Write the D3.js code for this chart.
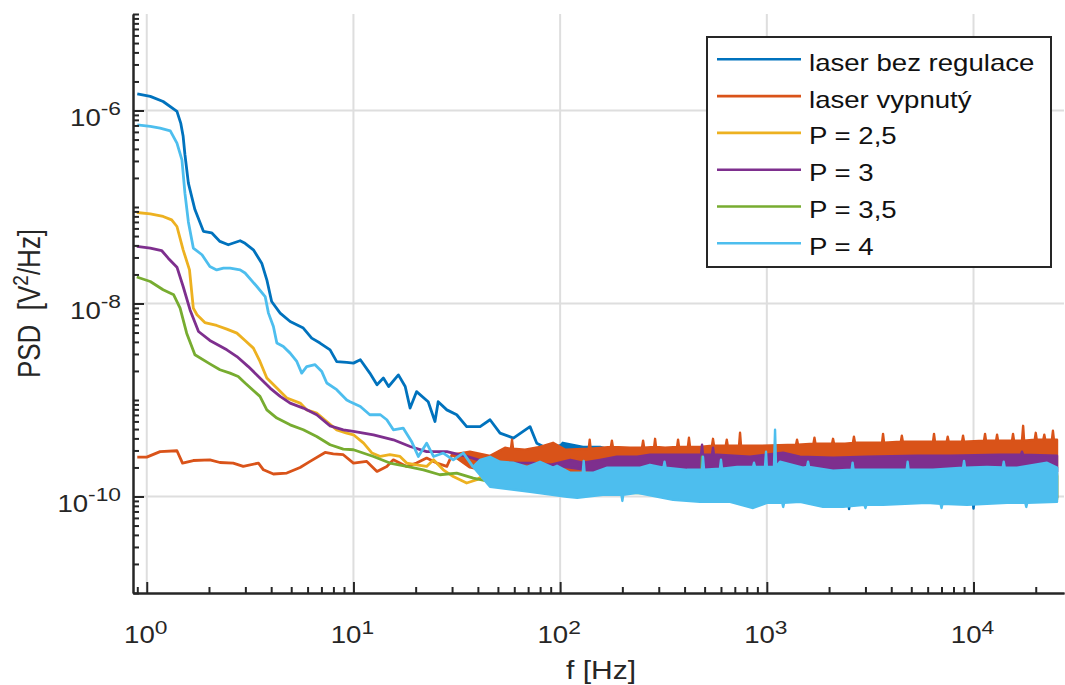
<!DOCTYPE html>
<html>
<head>
<meta charset="utf-8">
<title>PSD</title>
<script src="https://cdn.jsdelivr.net/npm/d3@7"></script>
<style>
    body { margin: 0; background: #fff; }
    svg text { font-family: "Liberation Sans", Arial, Helvetica, sans-serif; fill: #262626; }
</style>
</head>
<body>
<svg id="chart" width="1065" height="685"></svg>
<script>
// legend entries, in plotting order
var seriesNames  = ['laser bez regulace', 'laser vypnutý', 'P = 2,5', 'P = 3', 'P = 3,5', 'P = 4'];
var seriesColors = ['#0072bd', '#d95319', '#edb120', '#7e2f8e', '#77ac30', '#4dbeee'];

var xTickExps = [0, 1, 2, 3, 4];
var yTickExps = [-10, -8, -6];

// [f Hz, PSD V^2/Hz]; *Line = low frequency trace, *Top / *Bot = edges of the noise band
var noRegLine = [[0.90,1.49e-6],[1.04,1.40e-6],[1.20,1.24e-6],[1.40,9.8e-7],[1.46,7.4e-7],[1.50,5.4e-7],[1.53,3.5e-7],[1.59,1.77e-7],[1.71,9.4e-8],[1.88,5.6e-8],[2.06,5.4e-8],[2.26,4.4e-8],[2.48,4.06e-8],[2.83,4.47e-8],[2.99,4.2e-8],[3.28,3.6e-8],[3.60,2.62e-8],[3.81,1.76e-8],[4.02,1.05e-8],[4.42,7.96e-9],[4.94,6.5e-9],[5.72,5.56e-9],[6.28,4.38e-9],[6.89,3.89e-9],[7.71,3.31e-9],[8.30,2.5e-9],[9.28,2.45e-9],[10.0,2.41e-9],[10.8,2.61e-9],[12.0,1.90e-9],[13.0,1.44e-9],[13.96,1.69e-9],[14.8,1.38e-9],[16.5,1.82e-9],[17.8,1.38e-9],[18.8,8.24e-10],[20.2,1.22e-9],[23.0,9.6e-10],[24.8,5.99e-10],[25.7,9.6e-10],[28.3,7.9e-10],[31.6,7.03e-10],[35.3,5.3e-10],[41.0,5.3e-10],[45.8,6.24e-10],[51.2,4.54e-10],[59.4,4.03e-10],[71.5,5.3e-10],[77.1,3.57e-10],[86.1,3.17e-10],[100,3.36e-10]];
var noRegTop  = [[100,3.36e-10],[103,3.60e-10],[129,3.27e-10],[156,3.27e-10],[174,3.05e-10],[188,2.71e-10],[218,2.40e-10],[475,1.99e-10],[25350,1.99e-10]];
var noRegBot  = [[100,3.36e-10],[124,1.89e-10],[272,1.12e-10],[475,9.6e-11],[2472,9.3e-11],[2500,7.4e-11],[2528,9.3e-11],[9890,9.3e-11],[10000,7.5e-11],[10110,9.3e-11],[25350,9.6e-11]];

var offLine = [[0.90,2.56e-10],[1.0,2.56e-10],[1.16,2.92e-10],[1.40,2.98e-10],[1.49,2.22e-10],[1.68,2.36e-10],[2.02,2.40e-10],[2.26,2.25e-10],[2.62,2.22e-10],[2.93,2.05e-10],[3.47,2.22e-10],[3.67,1.89e-10],[4.10,1.71e-10],[4.76,1.75e-10],[5.52,2.0e-10],[6.17,2.31e-10],[7.29,2.86e-10],[7.99,2.77e-10],[8.93,2.71e-10],[10.0,2.22e-10],[11.6,2.31e-10],[13.0,1.82e-10],[14.5,2.05e-10],[15.6,2.40e-10],[18.1,2.05e-10],[20.2,2.22e-10],[22.6,2.50e-10],[25.3,2.22e-10],[28.3,2.05e-10],[30.0,2.71e-10]];
var offTop  = [[30.0,2.71e-10],[36.6,2.91e-10],[45.8,2.64e-10],[54.1,3.20e-10],[57.8,3.12e-10],[58.5,3.87e-10],[59.2,3.12e-10],[67.6,3.05e-10],[79.9,3.27e-10],[92.4,3.60e-10],[106,3.05e-10],[137.5,3.12e-10],[139,3.87e-10],[140.5,3.12e-10],[176,3.27e-10],[178,3.78e-10],[180,3.27e-10],[218,3.20e-10],[249,3.20e-10],[252,3.78e-10],[255,3.20e-10],[285,3.27e-10],[288,3.96e-10],[291,3.27e-10],[322,3.20e-10],[368,3.27e-10],[372,3.87e-10],[376,3.27e-10],[415,3.27e-10],[420,4.06e-10],[425,3.27e-10],[475,3.27e-10],[543,3.36e-10],[549,3.96e-10],[555,3.36e-10],[633,3.36e-10],[640,3.87e-10],[647,3.36e-10],[734,3.36e-10],[742,4.57e-10],[750,3.36e-10],[927,3.36e-10],[1384,3.44e-10],[1400,3.87e-10],[1416,3.44e-10],[1681,3.52e-10],[1700,4.06e-10],[1719,3.52e-10],[2068,3.52e-10],[2091,3.96e-10],[2114,3.52e-10],[2390,3.52e-10],[2610,3.60e-10],[2639,4.16e-10],[2669,3.60e-10],[3162,3.60e-10],[3609,3.60e-10],[3650,4.46e-10],[3691,3.60e-10],[4450,3.69e-10],[4500,4.26e-10],[4550,3.69e-10],[6368,3.69e-10],[6440,4.46e-10],[6510,3.69e-10],[7418,3.69e-10],[7500,4.16e-10],[7583,3.69e-10],[8800,3.69e-10],[8899,4.26e-10],[9000,3.69e-10],[11240,3.78e-10],[11370,4.46e-10],[11490,3.78e-10],[12860,3.78e-10],[13000,4.36e-10],[13140,3.78e-10],[15360,3.78e-10],[15530,4.46e-10],[15700,3.78e-10],[17160,3.78e-10],[17380,5.40e-10],[17570,3.78e-10],[19780,3.87e-10],[20000,4.57e-10],[20220,3.87e-10],[21760,3.87e-10],[22000,4.36e-10],[22240,3.87e-10],[23950,3.87e-10],[24220,4.80e-10],[24490,3.87e-10],[25350,3.87e-10]];
var offBot  = [[30.0,2.71e-10],[36.6,2.0e-10],[45.8,1.80e-10],[54.1,1.72e-10],[67.6,1.80e-10],[79.9,1.72e-10],[106,1.80e-10],[176,1.89e-10],[927,1.99e-10],[25350,1.99e-10]];

var p25Line = [[0.895,8.77e-8],[1.04,8.50e-8],[1.20,7.98e-8],[1.32,7.36e-8],[1.40,6.28e-8],[1.50,3.60e-8],[1.61,2.23e-8],[1.68,8.96e-9],[1.75,7.64e-9],[1.91,6.35e-9],[2.18,5.92e-9],[2.44,5.43e-9],[2.73,4.93e-9],[2.99,4.14e-9],[3.28,3.45e-9],[3.53,2.51e-9],[3.81,1.69e-9],[4.26,1.33e-9],[4.76,1.05e-9],[5.52,9.29e-10],[5.94,7.91e-10],[6.64,7.31e-10],[7.43,5.99e-10],[8.30,4.91e-10],[9.28,4.54e-10],[10.0,4.36e-10],[11.2,3.57e-10],[12.3,2.82e-10],[13.5,2.60e-10],[15.0,2.71e-10],[16.8,2.60e-10],[18.1,2.22e-10],[20.2,2.13e-10],[22.6,2.05e-10],[24.4,2.40e-10],[27.2,1.89e-10],[30.4,1.61e-10],[35.3,1.38e-10],[39.5,1.49e-10],[44.2,1.75e-10],[49.4,1.61e-10],[57.2,1.38e-10],[68.9,1.49e-10]];
var p25Top  = [[68.9,1.49e-10],[129,1.64e-10],[272,1.56e-10],[927,1.72e-10],[25350,1.72e-10]];
var p25Bot  = [[68.9,1.49e-10],[112,1.12e-10],[129,1.04e-10],[272,1.12e-10],[927,9.7e-11],[25350,9.25e-11]];

var p3Line = [[0.895,3.90e-8],[1.04,3.75e-8],[1.18,3.54e-8],[1.27,2.95e-8],[1.40,2.38e-8],[1.50,1.50e-8],[1.62,8.57e-9],[1.78,5.13e-9],[2.02,4.14e-9],[2.44,3.31e-9],[2.73,2.82e-9],[3.10,2.22e-9],[3.41,1.82e-9],[3.95,1.33e-9],[4.42,1.09e-9],[4.94,9.29e-10],[5.72,8.24e-10],[6.64,7.03e-10],[7.71,5.40e-10],[8.93,4.91e-10],[10.0,4.72e-10],[12.5,4.36e-10],[15.6,3.87e-10],[18.8,3.30e-10],[22.6,2.92e-10],[28.3,2.92e-10],[35.3,2.60e-10],[42.5,2.31e-10],[51.2,2.22e-10],[61.7,2.22e-10],[74.2,2.22e-10],[89.3,2.13e-10]];
var p3Top  = [[89.3,2.13e-10],[112,2.40e-10],[129,2.24e-10],[156,2.40e-10],[188,2.58e-10],[236,2.58e-10],[272,2.71e-10],[340,2.71e-10],[481,2.71e-10],[486,3.44e-10],[491,2.71e-10],[543,2.71e-10],[549,3.20e-10],[555,2.71e-10],[574,2.71e-10],[829,2.58e-10],[1198,2.84e-10],[1447,2.58e-10],[2091,2.52e-10],[3054,2.58e-10],[5329,2.64e-10],[7705,2.64e-10],[13430,2.71e-10],[16970,2.71e-10],[17160,2.91e-10],[17380,2.71e-10],[25350,2.64e-10]];
var p3Bot  = [[89.3,2.13e-10],[156,1.80e-10],[1447,1.80e-10],[25350,1.80e-10]];

var p35Line = [[0.895,1.88e-8],[1.04,1.69e-8],[1.20,1.39e-8],[1.35,1.23e-8],[1.45,8.96e-9],[1.56,4.93e-9],[1.71,2.94e-9],[2.02,2.37e-9],[2.26,2.06e-9],[2.53,1.90e-9],[2.77,1.75e-9],[2.99,1.50e-9],[3.53,1.09e-9],[3.81,7.91e-10],[4.26,6.49e-10],[4.94,5.53e-10],[5.72,4.91e-10],[6.64,4.19e-10],[7.71,3.44e-10],[8.93,3.10e-10],[10.0,3.05e-10],[12.5,2.60e-10],[15.0,2.22e-10],[18.1,2.05e-10],[21.8,1.89e-10],[26.2,1.68e-10],[31.6,1.75e-10],[38.0,1.55e-10],[45.8,1.43e-10],[55.2,1.38e-10]];
var p35Top  = [[55.2,1.38e-10],[156,1.56e-10],[481,1.56e-10],[486,2.58e-10],[491,1.56e-10],[25350,1.64e-10]];
var p35Bot  = [[55.2,1.38e-10],[100,1.12e-10],[1447,1.02e-10],[25350,9.7e-11]];

var p4Line = [[0.90,7.11e-7],[1.04,6.83e-7],[1.16,6.57e-7],[1.30,6.16e-7],[1.40,4.59e-7],[1.48,3.08e-7],[1.53,1.39e-7],[1.59,7.0e-8],[1.68,3.75e-8],[1.85,3.20e-8],[2.02,2.42e-8],[2.18,2.23e-8],[2.35,2.33e-8],[2.53,2.33e-8],[2.83,2.23e-8],[2.99,2.07e-8],[3.41,1.50e-8],[3.74,1.18e-8],[3.88,7.95e-9],[4.10,5.78e-9],[4.26,3.89e-9],[4.58,3.58e-9],[4.94,3.06e-9],[5.32,2.51e-9],[5.62,1.90e-9],[5.94,2.22e-9],[6.52,2.32e-9],[7.03,1.97e-9],[7.43,1.50e-9],[8.30,1.28e-9],[9.28,1.00e-9],[9.63,9.6e-10],[10.8,8.57e-10],[12.0,7.03e-10],[13.5,7.03e-10],[14.5,6.24e-10],[15.6,4.91e-10],[17.4,5.12e-10],[19.1,3.72e-10],[20.6,2.60e-10],[22.6,3.57e-10],[24.4,2.60e-10],[27.2,2.82e-10],[30.4,2.40e-10],[34.0,2.82e-10],[37.9,2.03e-10]];
var p4Top  = [[37.9,2.03e-10],[41.0,2.40e-10],[45.8,2.58e-10],[51.2,2.29e-10],[59.2,2.24e-10],[69.2,2.03e-10],[79.9,2.29e-10],[92.4,1.99e-10],[96.6,2.08e-10],[112,1.76e-10],[128.6,1.76e-10],[130,2.34e-10],[131.4,1.76e-10],[144,1.76e-10],[169,1.99e-10],[244,1.99e-10],[272,2.13e-10],[316,1.99e-10],[320,2.29e-10],[324,1.99e-10],[411,1.89e-10],[486,1.89e-10],[491,2.58e-10],[497,1.89e-10],[593,1.94e-10],[600,2.40e-10],[607,1.94e-10],[718,2.03e-10],[858,2.03e-10],[867,2.24e-10],[877,2.03e-10],[980,2.03e-10],[991,2.91e-10],[1000,2.03e-10],[1083,2.03e-10],[1096,4.91e-10],[1108,2.03e-10],[1158,2.29e-10],[1496,1.99e-10],[1565,2.03e-10],[1583,2.29e-10],[1601,2.03e-10],[2091,1.85e-10],[2571,1.89e-10],[2600,2.24e-10],[2629,1.89e-10],[3650,1.89e-10],[4747,1.89e-10],[4800,2.29e-10],[4853,1.89e-10],[6368,1.89e-10],[8900,1.99e-10],[9000,2.34e-10],[9100,1.99e-10],[11620,2.03e-10],[13850,2.0e-10],[14000,2.29e-10],[14160,2.0e-10],[16240,1.99e-10],[22680,2.24e-10],[25350,1.99e-10]];
var p4Bot  = [[37.9,2.03e-10],[45.8,1.26e-10],[71.5,1.12e-10],[108,9.93e-11],[121,9.7e-11],[161,1.04e-10],[198,1.04e-10],[200,9.0e-11],[202,1.04e-10],[236,1.09e-10],[352,9.25e-11],[475,8.8e-11],[664,8.8e-11],[858,7.6e-11],[1000,8.6e-11],[1187,8.6e-11],[1200,7.8e-11],[1213,8.6e-11],[1447,8.8e-11],[1870,7.8e-11],[2337,7.8e-11],[2967,8.2e-11],[3000,7.6e-11],[3033,8.2e-11],[3650,8.2e-11],[5957,8.6e-11],[6923,8.4e-11],[7000,7.6e-11],[7078,8.4e-11],[9303,8.2e-11],[14530,8.6e-11],[17800,8.6e-11],[18000,7.8e-11],[18200,8.6e-11],[25350,8.8e-11]];

(function () {
    'use strict';

    var series = [
        { line: noRegLine, top: noRegTop, bot: noRegBot },
        { line: offLine,   top: offTop,   bot: offBot },
        { line: p25Line,   top: p25Top,   bot: p25Bot },
        { line: p3Line,    top: p3Top,    bot: p3Bot },
        { line: p35Line,   top: p35Top,   bot: p35Bot },
        { line: p4Line,    top: p4Top,    bot: p4Bot }
    ];

    var box = { left: 133, right: 1064, top: 14, bottom: 593 };
    var axisColor = '#262626';

    var svg = d3.select('#chart');

    var x = d3.scaleLog()
              .domain([0.858, 27400])
              .range([box.left, box.right]);
    var y = d3.scaleLog()
              .domain([1e-11, 1e-5])
              .range([box.bottom, box.top]);

    // the picture is a bit wider than tall, so text is stretched sideways
    function stretched(parent, px, py, anchor, size, extra) {
        return parent.append('g')
                     .attr('transform', 'translate(' + px + ',' + py + ') scale(1.2,1)' + (extra || ''))
                     .append('text')
                     .attr('text-anchor', anchor)
                     .style('font-size', size + 'px')
                     .style('white-space', 'pre');
    }

    function minorTicks(scale, majors) {
        var d = scale.domain(), out = [];
        for (var k = Math.floor(Math.log10(d[0])); k <= Math.ceil(Math.log10(d[1])); k++) {
            for (var m = 1; m < 10; m++) {
                var v = m * Math.pow(10, k);
                if (v >= d[0] * 0.999 && v <= d[1] * 1.001 &&
                    majors.indexOf(Math.round(Math.log10(v) * 1000) / 1000) < 0) out.push(v);
            }
        }
        return out;
    }

    drawGrid();
    drawSeries();
    drawAxes();
    drawLegend();

    function drawGrid() {
        var g = svg.append('g')
                   .attr('stroke', '#dedede')
                   .attr('stroke-width', 2);
        g.selectAll('.gx')
         .data(xTickExps)
         .enter()
         .append('line')
         .attr('x1', function (d) { return x(Math.pow(10, d)); })
         .attr('x2', function (d) { return x(Math.pow(10, d)); })
         .attr('y1', box.top)
         .attr('y2', box.bottom);
        g.selectAll('.gy')
         .data(yTickExps)
         .enter()
         .append('line')
         .attr('y1', function (d) { return y(Math.pow(10, d)); })
         .attr('y2', function (d) { return y(Math.pow(10, d)); })
         .attr('x1', box.left)
         .attr('x2', box.right);
    }

    function drawSeries() {
        var line = d3.line()
                     .x(function (d) { return x(d[0]); })
                     .y(function (d) { return y(d[1]); });
        var g = svg.append('g');

        series.forEach(function (s, i) {
            var c = seriesColors[i];
            g.append('path')
             .attr('d', line(s.line))
             .attr('fill', 'none')
             .attr('stroke', c)
             .attr('stroke-width', 2.8)
             .attr('stroke-linejoin', 'round');
            g.append('path')
             .attr('d', line(s.top.concat(s.bot.slice().reverse())) + 'Z')
             .attr('fill', c)
             .attr('stroke', c)
             .attr('stroke-width', 2.4)
             .attr('stroke-linejoin', 'round');
        });
    }

    function drawAxes() {
        var xMajor = xTickExps.map(function (e) { return Math.pow(10, e); });
        var yMajor = yTickExps.map(function (e) { return Math.pow(10, e); });

        var gx = svg.append('g')
                    .attr('transform', 'translate(0,' + box.bottom + ')')
                    .attr('color', axisColor);
        gx.call(d3.axisBottom(x).tickValues(minorTicks(x, xTickExps)).tickSizeInner(-6).tickSizeOuter(0).tickFormat(''));
        gx.append('g')
          .call(d3.axisBottom(x).tickValues(xMajor).tickSizeInner(-11).tickSizeOuter(0).tickFormat(''));

        var gy = svg.append('g')
                    .attr('transform', 'translate(' + box.left + ',0)')
                    .attr('color', axisColor);
        gy.call(d3.axisLeft(y).tickValues(minorTicks(y, yTickExps)).tickSizeInner(-6).tickSizeOuter(0).tickFormat(''));
        gy.append('g')
          .call(d3.axisLeft(y).tickValues(yMajor).tickSizeInner(-11).tickSizeOuter(0).tickFormat(''));

        svg.selectAll('.tick line').attr('stroke-width', 2);
        svg.selectAll('.domain').attr('stroke-width', 2);

        xTickExps.forEach(function (e) {
            var t = stretched(svg, x(Math.pow(10, e)) - 1, 642.5, 'middle', 23);
            t.append('tspan').text('10');
            t.append('tspan').attr('dy', -9).style('font-size', '19px').text(e);
        });
        yTickExps.forEach(function (e) {
            var t = stretched(svg, 121, y(Math.pow(10, e)) + 15, 'end', 23);
            t.append('tspan').text('10');
            t.append('tspan').attr('dy', -11).style('font-size', '19px').text(e);
        });

        stretched(svg, 601, 679, 'middle', 25).text('f [Hz]');

        var yl = stretched(svg, 40, 303.5, 'middle', 26, ' rotate(-90)');
        yl.append('tspan').text('PSD  [V');
        yl.append('tspan').attr('dy', -10).style('font-size', '19px').text('2');
        yl.append('tspan').attr('dy', 10).text('/Hz]');
    }

    function drawLegend() {
        var leg = svg.append('g');
        leg.append('rect')
           .attr('x', 707)
           .attr('y', 37)
           .attr('width', 344)
           .attr('height', 230)
           .attr('fill', '#fff')
           .attr('stroke', axisColor)
           .attr('stroke-width', 2);

        seriesNames.forEach(function (name, i) {
            var ly = 59.3 + i * 36.8;
            leg.append('line')
               .attr('x1', 717)
               .attr('x2', 801)
               .attr('y1', ly)
               .attr('y2', ly)
               .attr('stroke', seriesColors[i])
               .attr('stroke-width', 2.6);
            stretched(leg, 809, ly + 11.5, 'start', 23)
                .style('fill', '#111')
                .text(name);
        });
    }
})();
</script>
</body>
</html>
